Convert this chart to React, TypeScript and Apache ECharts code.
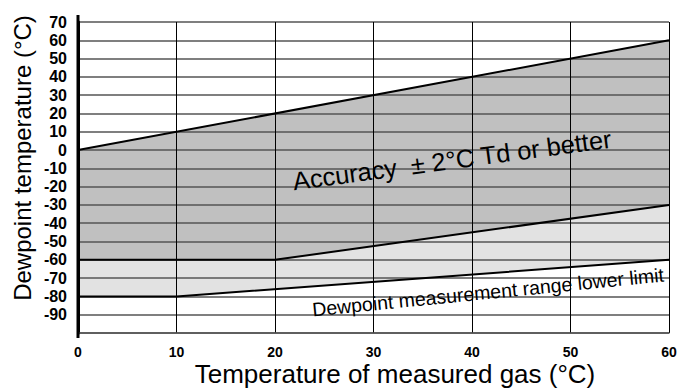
import React, { useEffect, useRef } from "react";
import * as echarts from "echarts";

const xTicks = [0, 10, 20, 30, 40, 50, 60];
const yTickLabels = [70, 60, 50, 40, 30, 20, 10, 0, -10, -20, -30, -40, -50, -60, -70, -80, -90];

const upperX = [0, 60];
const upperY = [0, 60];
const midX = [0, 20, 60];
const midY = [-60, -60, -30];
const lowerX = [0, 10, 60];
const lowerY = [-80, -80, -60];

const pts = (xs: number[], ys: number[]) => xs.map((x, i) => [x, ys[i]]);

export default function App() {
  const ref = useRef<HTMLDivElement>(null);
  useEffect(() => {
    const chart = echarts.init(ref.current!, null, { renderer: "svg" });
    const upper = pts(upperX, upperY);
    const mid = pts(midX, midY);
    const lower = pts(lowerX, lowerY);
    const darkPoly = [...upper, ...mid.slice().reverse()];
    const lightPoly = [...mid, ...lower.slice().reverse()];
    const poly = (points: number[][], fill: string) => ({
      type: "custom",
      z: 1,
      data: [0],
      renderItem: (_p: any, api: any) => ({
        type: "polygon",
        shape: { points: points.map((p) => api.coord(p)) },
        style: { fill },
      }),
    });
    const line = (data: number[][]) => ({
      type: "line",
      data,
      z: 10,
      symbol: "none",
      lineStyle: { color: "#000", width: 2 },
    });
    const font = "'Liberation Sans', Arial, sans-serif";
    const narrow = "'Liberation Sans Narrow', 'Arial Narrow', 'Liberation Sans', sans-serif";
    const baseGraphics: any[] = [
      {
        type: "text",
        x: 395,
        y: 387,
        style: {
          text: "Temperature of measured gas (°C)",
          fontFamily: font,
          fontSize: 26,
          fill: "#000",
          align: "center",
          verticalAlign: "bottom",
        },
      },
      {
        type: "text",
        x: 22,
        y: 158,
        rotation: Math.PI / 2,
        style: {
          text: "Dewpoint temperature (°C)",
          fontFamily: font,
          fontSize: 24,
          fill: "#000",
          align: "center",
          verticalAlign: "middle",
        },
      },
      {
        type: "text",
        x: 452,
        y: 160,
        rotation: 0.133,
        z: 20,
        style: {
          text: "Accuracy  ± 2°C Td or better",
          fontFamily: font,
          fontSize: 25.5,
          fill: "#000",
          align: "center",
          verticalAlign: "middle",
        },
      },
      {
        type: "text",
        x: 488,
        y: 292,
        rotation: 0.099,
        z: 20,
        style: {
          text: "Dewpoint measurement range lower limit",
          fontFamily: font,
          fontSize: 19.5,
          fill: "#000",
          align: "center",
          verticalAlign: "middle",
        },
      },
    ];
    chart.setOption({
      animation: false,
      backgroundColor: "#fff",
      grid: { left: 78, right: 12, top: 22, bottom: 59 },
      xAxis: {
        type: "value",
        min: 0,
        max: 60,
        interval: 10,
        z: 5,
        axisLine: { show: true, onZero: false, lineStyle: { color: "#555", width: 1.5 } },
        axisTick: { show: false },
        splitLine: { show: true, lineStyle: { color: "#000", width: 1 } },
        axisLabel: {
          margin: 12,
          color: "#000",
          fontFamily: font,
          fontWeight: "bold",
          fontSize: 14,
          formatter: (v: number) => (xTicks.includes(v) ? String(v) : ""),
        },
      },
      yAxis: {
        type: "value",
        min: -100,
        max: 70,
        interval: 10,
        z: 5,
        axisLine: { show: true, onZero: false, lineStyle: { color: "#000", width: 3 } },
        axisTick: { show: false },
        splitLine: { show: true, lineStyle: { color: "#555", width: 1.5 } },
        axisLabel: {
          margin: 11,
          color: "#000",
          fontFamily: narrow,
          fontWeight: "bold",
          fontSize: 16,
          formatter: (v: number) => (yTickLabels.includes(v) ? String(v) : ""),
        },
      },
      series: [
        poly(darkPoly, "#c0c0c0"),
        poly(lightPoly, "#e2e2e2"),
        line(upper),
        line(mid),
        line(lower),
      ],
      graphic: baseGraphics,
    });
    // extend the left axis line slightly beyond the plot, as in the original
    const top = chart.convertToPixel({ gridIndex: 0 }, [0, 70]) as number[];
    const bot = chart.convertToPixel({ gridIndex: 0 }, [0, -100]) as number[];
    chart.setOption({
      graphic: [
        ...baseGraphics,
        {
          type: "line",
          z: 30,
          shape: { x1: top[0], y1: top[1] - 7, x2: bot[0], y2: bot[1] + 5 },
          style: { stroke: "#000", lineWidth: 3 },
        },
      ],
    });
    return () => chart.dispose();
  }, []);
  return <div ref={ref} style={{ width: 681, height: 392, position: "fixed", left: 0, top: 0 }} />;
}
